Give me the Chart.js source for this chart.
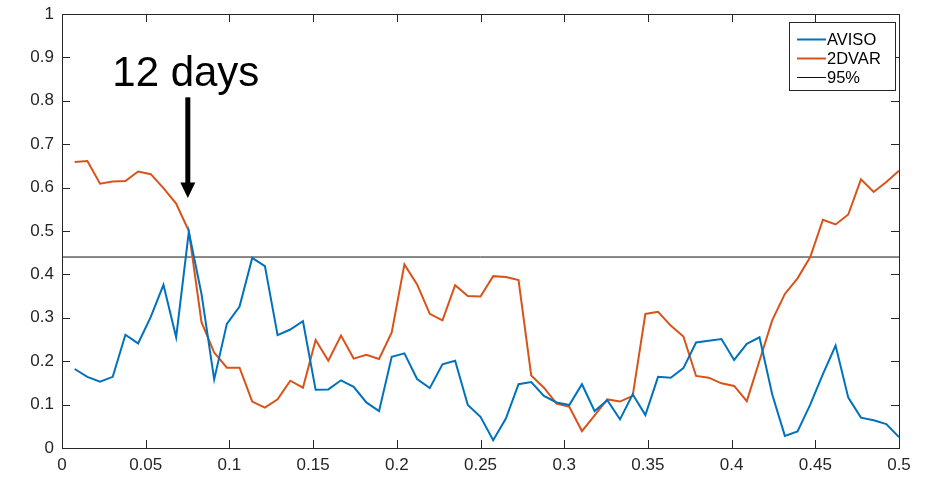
<!DOCTYPE html>
<html>
<head>
<meta charset="utf-8">
<script src="https://cdn.jsdelivr.net/npm/chart.js@4.4.1/dist/chart.umd.min.js"></script>
<style>
    html, body { margin: 0; padding: 0; background: #fff; }
    #wrap { width: 927px; height: 478px; }
</style>
</head>
<body>
<div id="wrap"><canvas id="chart" width="927" height="478"></canvas></div>
<script>
// values, one per frequency bin (k/132, k = 1..66)
const aviso = [
    0.182, 0.164, 0.153, 0.164, 0.261, 0.241, 0.302, 0.376, 0.255, 0.498,
    0.355, 0.158, 0.286, 0.326, 0.438, 0.419, 0.260, 0.273, 0.292, 0.134,
    0.135, 0.156, 0.141, 0.105, 0.085, 0.210, 0.218, 0.159, 0.138, 0.193,
    0.201, 0.099, 0.072, 0.018, 0.068, 0.147, 0.152, 0.120, 0.105, 0.099,
    0.147, 0.085, 0.110, 0.066, 0.124, 0.076, 0.164, 0.162, 0.184, 0.243,
    0.247, 0.251, 0.203, 0.240, 0.255, 0.124, 0.028, 0.038, 0.100, 0.170,
    0.236, 0.116, 0.070, 0.064, 0.055, 0.025
];
const twoDVar = [
    0.659, 0.661, 0.609, 0.614, 0.615, 0.637, 0.631, 0.599, 0.563, 0.500,
    0.290, 0.220, 0.185, 0.185, 0.107, 0.093, 0.112, 0.155, 0.139, 0.249,
    0.201, 0.259, 0.206, 0.215, 0.205, 0.266, 0.423, 0.377, 0.309, 0.294,
    0.375, 0.350, 0.349, 0.396, 0.394, 0.387, 0.167, 0.139, 0.102, 0.095,
    0.039, 0.075, 0.112, 0.107, 0.120, 0.309, 0.314, 0.282, 0.257, 0.166,
    0.162, 0.149, 0.143, 0.108, 0.201, 0.294, 0.355, 0.391, 0.440, 0.526,
    0.515, 0.538, 0.619, 0.590, 0.613, 0.639
];
const freq = aviso.map((_, i) => (i + 1) / 132);
const level95 = 0.44;
const xTicks = [0, 0.05, 0.1, 0.15, 0.2, 0.25, 0.3, 0.35, 0.4, 0.45, 0.5];
const yTicks = [0, 0.1, 0.2, 0.3, 0.4, 0.5, 0.6, 0.7, 0.8, 0.9, 1];
const seriesNames = ['AVISO', '2DVAR', '95%'];
const noteText = '12 days';
const noteIndex = 9; // the bin the arrow points at

const FONT = '"Liberation Sans", Arial, sans-serif';
const AXIS_COLOR = '#262626';

// MATLAB-like box with inward ticks on all four sides
const boxAxes = {
    id: 'boxAxes',
    afterDatasetsDraw(chart) {
        const { ctx, chartArea: a, scales: { x, y } } = chart;
        const len = 8;
        ctx.save();
        ctx.strokeStyle = AXIS_COLOR;
        ctx.lineWidth = 1;
        ctx.beginPath();
        xTicks.forEach(v => {
            const px = Math.round(x.getPixelForValue(v)) + 0.5;
            ctx.moveTo(px, a.bottom); ctx.lineTo(px, a.bottom - len);
            ctx.moveTo(px, a.top); ctx.lineTo(px, a.top + len);
        });
        yTicks.forEach(v => {
            const py = Math.round(y.getPixelForValue(v)) + 0.5;
            ctx.moveTo(a.left, py); ctx.lineTo(a.left + len, py);
            ctx.moveTo(a.right, py); ctx.lineTo(a.right - len, py);
        });
        ctx.stroke();
        ctx.strokeRect(Math.round(a.left) + 0.5, Math.round(a.top) + 0.5,
            Math.round(a.right - a.left), Math.round(a.bottom - a.top));
        ctx.restore();
    }
};

// "12 days" note with a thick arrow
const arrowNote = {
    id: 'arrowNote',
    afterDatasetsDraw(chart) {
        const { ctx, scales: { x, y } } = chart;
        const ax = x.getPixelForValue(freq[noteIndex]) - 1;
        const top = y.getPixelForValue(0.808);
        const headBase = y.getPixelForValue(0.612);
        const tip = y.getPixelForValue(0.576);
        ctx.save();
        ctx.fillStyle = '#000';
        ctx.fillRect(ax - 2.5, top, 5, headBase - top + 1);
        ctx.beginPath();
        ctx.moveTo(ax - 7.5, headBase);
        ctx.lineTo(ax + 7.5, headBase);
        ctx.lineTo(ax, tip);
        ctx.closePath();
        ctx.fill();
        ctx.font = '42px ' + FONT;
        ctx.textAlign = 'center';
        ctx.textBaseline = 'alphabetic';
        ctx.fillText(noteText, ax - 2, y.getPixelForValue(0.833));
        ctx.restore();
    }
};

// legend box in the upper right corner of the axes
const boxLegend = {
    id: 'boxLegend',
    afterDraw(chart) {
        const { ctx, chartArea: a } = chart;
        const w = 106, rowH = 19;
        const left = a.right - 4 - w, top = a.top + 8;
        const h = rowH * chart.data.datasets.length + 11;
        ctx.save();
        ctx.fillStyle = '#fff';
        ctx.fillRect(left, top, w, h);
        ctx.strokeStyle = '#262626';
        ctx.lineWidth = 1;
        ctx.strokeRect(Math.round(left) + 0.5, Math.round(top) + 0.5, w, h);
        ctx.font = '16.5px ' + FONT;
        ctx.textBaseline = 'middle';
        ctx.textAlign = 'left';
        chart.data.datasets.forEach((ds, i) => {
            const cy = top + 8 + rowH * (i + 0.5);
            ctx.strokeStyle = ds.borderColor;
            ctx.lineWidth = ds.borderWidth;
            ctx.beginPath();
            ctx.moveTo(left + 8, cy);
            ctx.lineTo(left + 37, cy);
            ctx.stroke();
            ctx.fillStyle = '#000';
            ctx.fillText(ds.label, left + 38, cy + 1);
        });
        ctx.restore();
    }
};

const ctx = document.getElementById('chart').getContext('2d');
new Chart(ctx, {
    type: 'line',
    data: {
        datasets: [
            {
                label: seriesNames[0],
                data: freq.map((f, i) => ({ x: f, y: aviso[i] })),
                borderColor: '#0072BD',
                borderWidth: 2
            },
            {
                label: seriesNames[1],
                data: freq.map((f, i) => ({ x: f, y: twoDVar[i] })),
                borderColor: '#D95319',
                borderWidth: 2
            },
            {
                label: seriesNames[2],
                data: [{ x: 0, y: level95 }, { x: 0.5, y: level95 }],
                borderColor: '#111111',
                borderWidth: 1
            }
        ]
    },
    options: {
        responsive: false,
        devicePixelRatio: 1,
        animation: false,
        layout: { padding: { left: 0, right: 28, top: 14, bottom: 0 } },
        elements: {
            point: { radius: 0 },
            line: { tension: 0, fill: false, borderCapStyle: 'butt', borderJoinStyle: 'miter' }
        },
        plugins: {
            legend: { display: false },
            tooltip: { enabled: false },
            title: { display: false }
        },
        scales: {
            x: {
                type: 'linear',
                min: 0,
                max: 0.5,
                afterFit: scale => {
                    scale.height = 30;
                    scale.paddingLeft = 0;
                    scale.paddingRight = 0;
                },
                afterBuildTicks: scale => { scale.ticks = xTicks.map(v => ({ value: v })); },
                grid: { display: false, drawTicks: false },
                border: { display: false },
                ticks: {
                    padding: 7,
                    color: AXIS_COLOR,
                    font: { family: FONT, size: 17 },
                    maxRotation: 0,
                    autoSkip: false,
                    callback: v => String(+v.toFixed(2))
                }
            },
            y: {
                min: 0,
                max: 1,
                afterFit: scale => {
                    scale.width = 62;
                    scale.paddingTop = 0;
                    scale.paddingBottom = 0;
                },
                afterBuildTicks: scale => { scale.ticks = yTicks.map(v => ({ value: v })); },
                grid: { display: false, drawTicks: false },
                border: { display: false },
                ticks: {
                    padding: 8,
                    color: AXIS_COLOR,
                    font: { family: FONT, size: 17 },
                    autoSkip: false,
                    callback: v => String(+v.toFixed(1))
                }
            }
        }
    },
    plugins: [boxAxes, arrowNote, boxLegend]
});
</script>
</body>
</html>
